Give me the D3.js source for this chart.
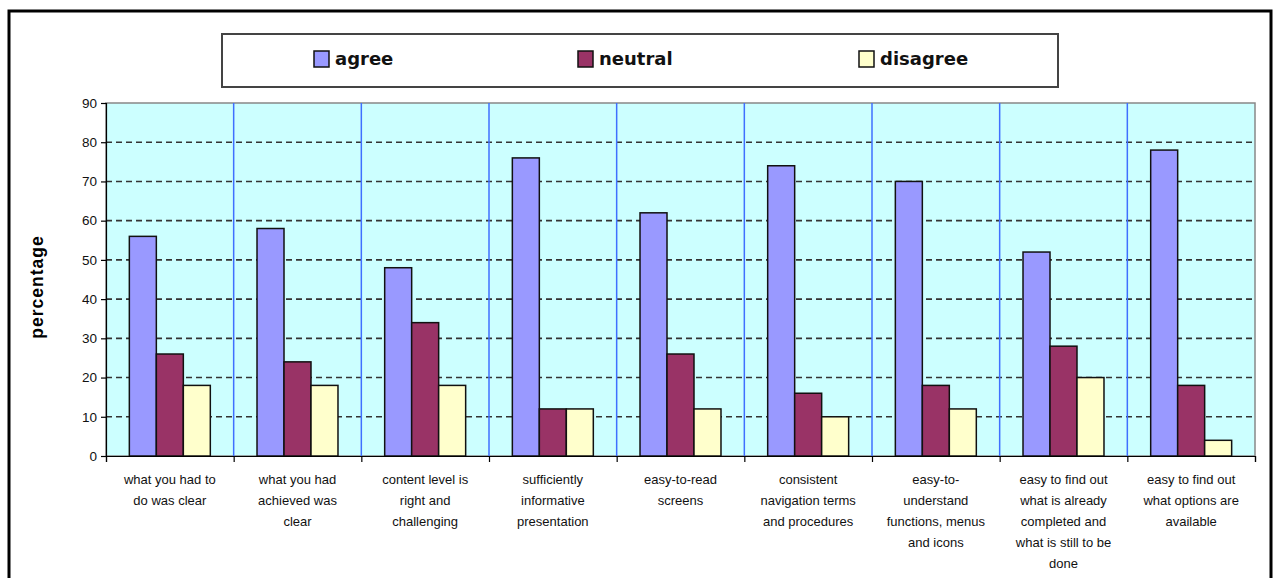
<!DOCTYPE html>
<html>
<head>
<meta charset="utf-8">
<script src="https://cdn.jsdelivr.net/npm/d3@7"></script>
<style>
  body { margin: 0; background: #fff; }
  svg { display: block; }
</style>
</head>
<body>
<svg></svg>
<script>
// data
let categories = [
  ["what you had to", "do was clear"],
  ["what you had", "achieved was", "clear"],
  ["content level is", "right and", "challenging"],
  ["sufficiently", "informative", "presentation"],
  ["easy-to-read", "screens"],
  ["consistent", "navigation terms", "and procedures"],
  ["easy-to-", "understand", "functions, menus", "and icons"],
  ["easy to find out", "what is already", "completed and", "what is still to be", "done"],
  ["easy to find out", "what options are", "available"]
];
let seriesNames = ["agree", "neutral", "disagree"];
let agree    = [56, 58, 48, 76, 62, 74, 70, 52, 78];
let neutral  = [26, 24, 34, 12, 26, 16, 18, 28, 18];
let disagree = [18, 18, 18, 12, 12, 10, 12, 20, 4];
let yTicks = [0, 10, 20, 30, 40, 50, 60, 70, 80, 90];
let colors = ["#9999ff", "#993366", "#ffffcc"];

let width = 1273;
let height = 578;
let plotLeft = 106, plotRight = 1255, plotTop = 103, plotBottom = 456;
let svg = d3.select("svg").attr("width", width).attr("height", height);

let rows = categories.map((c, i) => ({i: i, vals: [agree[i], neutral[i], disagree[i]]}));

// outer frame
svg.append("rect")
   .attr("x", 9).attr("y", 11)
   .attr("width", 1262).attr("height", 580)
   .attr("fill", "#fff").attr("stroke", "#000").attr("stroke-width", 3);

let xScale = d3.scaleBand().domain(d3.range(categories.length)).range([plotLeft, plotRight]).padding(0);
let xInner = d3.scaleBand().domain(seriesNames).range([0, xScale.bandwidth()]).paddingInner(0).paddingOuter(0.865);
let yScale = d3.scaleLinear().domain([0, 90]).range([plotBottom, plotTop]);

// plot background
svg.append("rect")
   .attr("x", plotLeft).attr("y", plotTop)
   .attr("width", plotRight - plotLeft).attr("height", plotBottom - plotTop)
   .attr("fill", "#ccffff").attr("stroke", "#888").attr("stroke-width", 1.5);

// dashed gridlines
svg.append("g")
   .selectAll("line")
   .data(yTicks.filter(t => t > 0 && t < 90))
   .join("line")
   .attr("x1", plotLeft).attr("x2", plotRight)
   .attr("y1", d => yScale(d)).attr("y2", d => yScale(d))
   .attr("stroke", "#333").attr("stroke-width", 1.6)
   .attr("stroke-dasharray", "6,4");

// blue category separators
svg.append("g")
   .selectAll("line")
   .data(d3.range(1, categories.length))
   .join("line")
   .attr("x1", d => xScale(d)).attr("x2", d => xScale(d))
   .attr("y1", plotTop).attr("y2", plotBottom)
   .attr("stroke", "#3f6fff").attr("stroke-width", 1.5);

// bars
let groups = svg.append("g")
   .selectAll("g")
   .data(rows)
   .join("g")
   .attr("transform", d => "translate(" + xScale(d.i) + ",0)");

groups.selectAll("rect")
   .data(d => d.vals.map((v, k) => ({k: k, v: v})))
   .join("rect")
   .attr("x", d => xInner(seriesNames[d.k]))
   .attr("y", d => yScale(d.v))
   .attr("width", xInner.bandwidth())
   .attr("height", d => plotBottom - yScale(d.v))
   .attr("fill", d => colors[d.k])
   .attr("stroke", "#111").attr("stroke-width", 1.5);

// y axis
let yAxis = d3.axisLeft(yScale).tickValues(yTicks).tickSize(5).tickPadding(4);
let gy = svg.append("g")
   .attr("transform", "translate(" + plotLeft + ",0)")
   .call(yAxis);
gy.select(".domain").attr("stroke", "#000").attr("stroke-width", 1.2);
gy.selectAll(".tick line").attr("stroke", "#000").attr("stroke-width", 1.2);
gy.selectAll(".tick text")
  .attr("font-family", "'Liberation Sans', Arial, sans-serif")
  .attr("font-size", 13.5).attr("fill", "#111");

// x axis: ticks at category boundaries
let xAxisScale = d3.scaleLinear().domain([0, categories.length]).range([plotLeft, plotRight]);
let xAxis = d3.axisBottom(xAxisScale).tickValues(d3.range(0, categories.length + 1)).tickSize(6).tickFormat("");
let gx = svg.append("g")
   .attr("transform", "translate(0," + plotBottom + ")")
   .call(xAxis);
gx.select(".domain").attr("stroke", "#000").attr("stroke-width", 1.2);
gx.selectAll(".tick line").attr("stroke", "#000").attr("stroke-width", 1.2);

// category labels
let labels = svg.append("g")
   .selectAll("text")
   .data(rows)
   .join("text")
   .attr("text-anchor", "middle")
   .attr("font-family", "'Liberation Sans', Arial, sans-serif")
   .attr("font-size", 13).attr("fill", "#111")
   .attr("transform", d => "translate(" + (xScale(d.i) + xScale.bandwidth() / 2) + ",484)");
labels.selectAll("tspan")
   .data(d => categories[d.i])
   .join("tspan")
   .attr("x", 0)
   .attr("y", (d, k) => k * 21)
   .text(d => d);

// y axis title
svg.append("text")
   .attr("transform", "translate(43,287) rotate(-90)")
   .attr("text-anchor", "middle")
   .attr("font-family", "'Liberation Sans', Arial, sans-serif")
   .attr("font-size", 17.5).attr("font-weight", "bold")
   .attr("letter-spacing", 1)
   .text("percentage");

// legend
svg.append("rect")
   .attr("x", 222).attr("y", 34)
   .attr("width", 836).attr("height", 53)
   .attr("fill", "#fff").attr("stroke", "#444").attr("stroke-width", 2);

let legendX = [314, 578, 859];
let legend = svg.append("g")
   .selectAll("g")
   .data(seriesNames)
   .join("g")
   .attr("transform", (d, k) => "translate(" + legendX[k] + ",51)");
legend.append("rect")
   .attr("width", 15).attr("height", 16)
   .attr("fill", (d, k) => colors[k])
   .attr("stroke", "#111").attr("stroke-width", 1.5);
legend.append("text")
   .attr("x", 21).attr("y", 14)
   .attr("font-family", "'DejaVu Sans', sans-serif")
   .attr("font-size", 18).attr("font-weight", "bold")
   .attr("fill", "#111")
   .text(d => d);
</script>
</body>
</html>
